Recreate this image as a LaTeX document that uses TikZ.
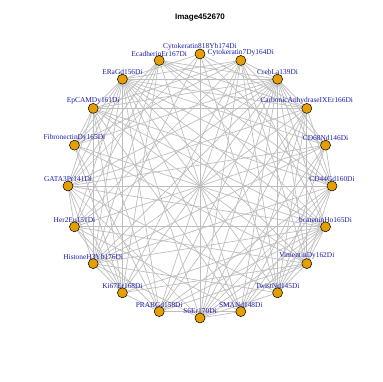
\documentclass[tikz,border=0pt]{standalone}
\usepackage{fontspec}
\setmainfont{Liberation Serif}
\newfontfamily\titlefont{Liberation Sans}
\usetikzlibrary{backgrounds}

\definecolor{vorange}{HTML}{E69F00}
\definecolor{lblue}{HTML}{1A1AA6}
\definecolor{egray}{HTML}{BEBEBE}

\tikzset{
  vtx/.style={circle, draw=black, line width=0.5pt, fill=vorange, minimum size=10pt, inner sep=0pt},
  lbl/.style={text=lblue, font=\fontsize{7.4}{8}\selectfont, inner sep=0pt, label distance=-1.2pt},
  edge/.style={draw=egray, line width=0.7pt}
}

\begin{document}
\begin{tikzpicture}[x=1pt, y=1pt]
  \useasboundingbox (-200,-196) rectangle (182,186);
  \node[font=\titlefont\bfseries\fontsize{8}{9}\selectfont] (title) at (0,168) {Image452670};

  \node[vtx, label={[lbl]90:Cytokeratin818Yb174Di}] (n1) at (90:132) {};
  \node[vtx, label={[lbl]90:Cytokeratin7Dy164Di}] (n2) at (72:132) {};
  \node[vtx, label={[lbl]90:CrebLa139Di}] (n3) at (54:132) {};
  \node[vtx, label={[lbl]90:CarbonicAnhydraseIXEr166Di}] (n4) at (36:132) {};
  \node[vtx, label={[lbl]90:CD68Nd146Di}] (n5) at (18:132) {};
  \node[vtx, label={[lbl]90:CD44Gd160Di}] (n6) at (0:132) {};
  \node[vtx, label={[lbl]90:bcateninHo165Di}] (n7) at (-18:132) {};
  \node[vtx, label={[lbl]90:VimentinDy162Di}] (n8) at (-36:132) {};
  \node[vtx, label={[lbl]90:TwistNd145Di}] (n9) at (-54:132) {};
  \node[vtx, label={[lbl]90:SMANd148Di}] (n10) at (-72:132) {};
  \node[vtx, label={[lbl]90:S6Er170Di}] (n11) at (-90:132) {};
  \node[vtx, label={[lbl]90:PRABGd158Di}] (n12) at (-108:132) {};
  \node[vtx, label={[lbl]90:Ki67Er168Di}] (n13) at (-126:132) {};
  \node[vtx, label={[lbl]90:HistoneH3Yb176Di}] (n14) at (-144:132) {};
  \node[vtx, label={[lbl]90:Her2Eu151Di}] (n15) at (-162:132) {};
  \node[vtx, label={[lbl]90:GATA3Pr141Di}] (n16) at (180:132) {};
  \node[vtx, label={[lbl]90:FibronectinDy165Di}] (n17) at (162:132) {};
  \node[vtx, label={[lbl]90:EpCAMDy161Di}] (n18) at (144:132) {};
  \node[vtx, label={[lbl]90:ERaGd156Di}] (n19) at (126:132) {};
  \node[vtx, label={[lbl]90:EcadherinEr167Di}] (n20) at (108:132) {};

  % correlation edges, under the vertices
  \begin{scope}[on background layer]
    \foreach \i in {1,...,19} {
      \pgfmathtruncatemacro\jfirst{\i+1}
      \foreach \j in {\jfirst,...,20} {
        \pgfmathtruncatemacro\keep{mod(7*\i*\i+3*\j*\j+5*\i*\j,10)}
        \ifnum\keep<6 \draw[edge] (n\i.center) -- (n\j.center); \fi
      }
    }
  \end{scope}
\end{tikzpicture}
\end{document}
